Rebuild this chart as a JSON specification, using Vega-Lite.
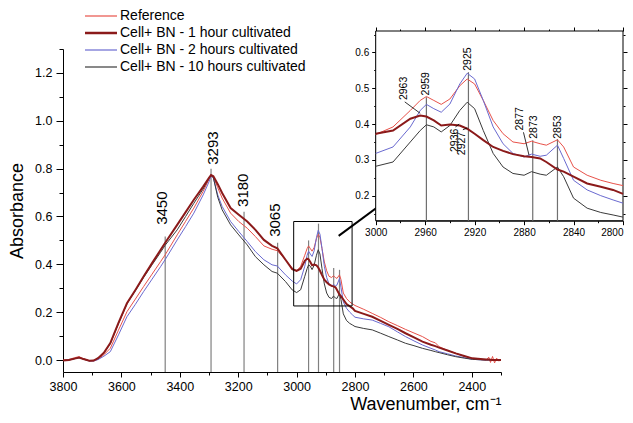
{
  "$schema": "https://vega.github.io/schema/vega-lite/v6.json",
  "width": 438,
  "height": 323,
  "autosize": "none",
  "padding": {"left": 63, "top": 49, "right": 132, "bottom": 51},
  "background": "white",
  "config": {
    "font": "Liberation Sans",
    "view": {"stroke": null},
    "axis": {"grid": false, "domainColor": "#000", "tickColor": "#000", "labelColor": "#000", "titleColor": "#000", "labelFont": "Liberation Sans", "titleFont": "Liberation Sans", "titleFontWeight": "normal"},
    "legend": {"labelFont": "Liberation Sans"}
  },
  "datasets": {
    "spec": [
      {"w": 3800, "ref": 0.0, "h1": -0.002, "h2": -0.002, "h10": -0.002},
      {"w": 3780, "ref": 0.002, "h1": 0.0, "h2": 0.0, "h10": 0.0},
      {"w": 3760, "ref": 0.01, "h1": 0.006, "h2": 0.006, "h10": 0.006},
      {"w": 3745, "ref": 0.014, "h1": 0.01, "h2": 0.01, "h10": 0.01},
      {"w": 3730, "ref": 0.006, "h1": 0.004, "h2": 0.004, "h10": 0.004},
      {"w": 3710, "ref": -0.003, "h1": -0.003, "h2": -0.004, "h10": -0.003},
      {"w": 3695, "ref": -0.004, "h1": -0.002, "h2": -0.004, "h10": -0.002},
      {"w": 3680, "ref": 0.004, "h1": 0.008, "h2": 0.002, "h10": 0.008},
      {"w": 3660, "ref": 0.022, "h1": 0.03, "h2": 0.016, "h10": 0.03},
      {"w": 3638, "ref": 0.049, "h1": 0.071, "h2": 0.035, "h10": 0.068},
      {"w": 3610, "ref": 0.125, "h1": 0.155, "h2": 0.105, "h10": 0.152},
      {"w": 3581, "ref": 0.202, "h1": 0.237, "h2": 0.181, "h10": 0.235},
      {"w": 3552, "ref": 0.255, "h1": 0.293, "h2": 0.233, "h10": 0.29},
      {"w": 3524, "ref": 0.307, "h1": 0.349, "h2": 0.286, "h10": 0.345},
      {"w": 3495, "ref": 0.359, "h1": 0.405, "h2": 0.338, "h10": 0.398},
      {"w": 3466, "ref": 0.411, "h1": 0.46, "h2": 0.39, "h10": 0.45},
      {"w": 3450, "ref": 0.44, "h1": 0.49, "h2": 0.42, "h10": 0.48},
      {"w": 3409, "ref": 0.523, "h1": 0.565, "h2": 0.502, "h10": 0.544},
      {"w": 3380, "ref": 0.58, "h1": 0.618, "h2": 0.558, "h10": 0.6},
      {"w": 3352, "ref": 0.635, "h1": 0.67, "h2": 0.614, "h10": 0.655},
      {"w": 3320, "ref": 0.705, "h1": 0.725, "h2": 0.69, "h10": 0.715},
      {"w": 3300, "ref": 0.755, "h1": 0.762, "h2": 0.745, "h10": 0.76},
      {"w": 3293, "ref": 0.772, "h1": 0.773, "h2": 0.77, "h10": 0.774},
      {"w": 3285, "ref": 0.765, "h1": 0.768, "h2": 0.76, "h10": 0.762},
      {"w": 3270, "ref": 0.72, "h1": 0.735, "h2": 0.69, "h10": 0.68},
      {"w": 3255, "ref": 0.677, "h1": 0.698, "h2": 0.642, "h10": 0.628},
      {"w": 3226, "ref": 0.614, "h1": 0.635, "h2": 0.579, "h10": 0.565},
      {"w": 3198, "ref": 0.579, "h1": 0.607, "h2": 0.537, "h10": 0.523},
      {"w": 3169, "ref": 0.551, "h1": 0.579, "h2": 0.495, "h10": 0.481},
      {"w": 3141, "ref": 0.516, "h1": 0.544, "h2": 0.453, "h10": 0.432},
      {"w": 3112, "ref": 0.477, "h1": 0.502, "h2": 0.419, "h10": 0.398},
      {"w": 3084, "ref": 0.463, "h1": 0.477, "h2": 0.398, "h10": 0.37},
      {"w": 3066, "ref": 0.457, "h1": 0.467, "h2": 0.393, "h10": 0.363},
      {"w": 3038, "ref": 0.419, "h1": 0.419, "h2": 0.356, "h10": 0.328},
      {"w": 3015, "ref": 0.384, "h1": 0.38, "h2": 0.33, "h10": 0.293},
      {"w": 3000, "ref": 0.371, "h1": 0.373, "h2": 0.318, "h10": 0.282},
      {"w": 2986, "ref": 0.392, "h1": 0.382, "h2": 0.336, "h10": 0.294},
      {"w": 2972, "ref": 0.438, "h1": 0.415, "h2": 0.392, "h10": 0.35},
      {"w": 2964, "ref": 0.466, "h1": 0.424, "h2": 0.438, "h10": 0.382},
      {"w": 2959, "ref": 0.477, "h1": 0.421, "h2": 0.455, "h10": 0.398},
      {"w": 2953, "ref": 0.466, "h1": 0.41, "h2": 0.443, "h10": 0.392},
      {"w": 2947, "ref": 0.455, "h1": 0.396, "h2": 0.433, "h10": 0.378},
      {"w": 2940, "ref": 0.47, "h1": 0.399, "h2": 0.456, "h10": 0.396},
      {"w": 2932, "ref": 0.507, "h1": 0.396, "h2": 0.512, "h10": 0.438},
      {"w": 2926, "ref": 0.526, "h1": 0.387, "h2": 0.542, "h10": 0.461},
      {"w": 2920, "ref": 0.512, "h1": 0.373, "h2": 0.526, "h10": 0.443},
      {"w": 2913, "ref": 0.466, "h1": 0.355, "h2": 0.466, "h10": 0.382},
      {"w": 2905, "ref": 0.41, "h1": 0.336, "h2": 0.392, "h10": 0.318},
      {"w": 2897, "ref": 0.373, "h1": 0.325, "h2": 0.345, "h10": 0.28},
      {"w": 2889, "ref": 0.35, "h1": 0.316, "h2": 0.318, "h10": 0.262},
      {"w": 2880, "ref": 0.345, "h1": 0.31, "h2": 0.308, "h10": 0.257},
      {"w": 2874, "ref": 0.352, "h1": 0.308, "h2": 0.316, "h10": 0.267},
      {"w": 2867, "ref": 0.345, "h1": 0.304, "h2": 0.31, "h10": 0.26},
      {"w": 2862, "ref": 0.341, "h1": 0.294, "h2": 0.313, "h10": 0.257},
      {"w": 2853, "ref": 0.356, "h1": 0.273, "h2": 0.341, "h10": 0.28},
      {"w": 2848, "ref": 0.336, "h1": 0.267, "h2": 0.304, "h10": 0.253},
      {"w": 2840, "ref": 0.28, "h1": 0.253, "h2": 0.243, "h10": 0.193},
      {"w": 2829, "ref": 0.257, "h1": 0.234, "h2": 0.216, "h10": 0.165},
      {"w": 2818, "ref": 0.243, "h1": 0.225, "h2": 0.2, "h10": 0.153},
      {"w": 2808, "ref": 0.234, "h1": 0.216, "h2": 0.188, "h10": 0.146},
      {"w": 2800, "ref": 0.228, "h1": 0.205, "h2": 0.179, "h10": 0.14},
      {"w": 2770, "ref": 0.212, "h1": 0.193, "h2": 0.172, "h10": 0.132},
      {"w": 2741, "ref": 0.195, "h1": 0.181, "h2": 0.167, "h10": 0.126},
      {"w": 2712, "ref": 0.178, "h1": 0.164, "h2": 0.153, "h10": 0.112},
      {"w": 2684, "ref": 0.16, "h1": 0.147, "h2": 0.139, "h10": 0.098},
      {"w": 2655, "ref": 0.144, "h1": 0.13, "h2": 0.118, "h10": 0.084},
      {"w": 2627, "ref": 0.128, "h1": 0.112, "h2": 0.098, "h10": 0.07},
      {"w": 2598, "ref": 0.113, "h1": 0.095, "h2": 0.08, "h10": 0.06},
      {"w": 2569, "ref": 0.098, "h1": 0.077, "h2": 0.063, "h10": 0.049},
      {"w": 2540, "ref": 0.078, "h1": 0.064, "h2": 0.049, "h10": 0.04},
      {"w": 2525, "ref": 0.072, "h1": 0.058, "h2": 0.042, "h10": 0.035},
      {"w": 2512, "ref": 0.056, "h1": 0.052, "h2": 0.035, "h10": 0.031},
      {"w": 2483, "ref": 0.04, "h1": 0.04, "h2": 0.026, "h10": 0.022},
      {"w": 2455, "ref": 0.028, "h1": 0.028, "h2": 0.017, "h10": 0.014},
      {"w": 2426, "ref": 0.016, "h1": 0.017, "h2": 0.01, "h10": 0.008},
      {"w": 2398, "ref": 0.007, "h1": 0.007, "h2": 0.003, "h10": 0.003},
      {"w": 2370, "ref": 0.002, "h1": 0.004, "h2": 0.001, "h10": 0.001},
      {"w": 2350, "ref": 0.0, "h1": 0.002, "h2": 0.0, "h10": 0.0},
      {"w": 2342, "ref": 0.012, "h1": 0.002, "h2": 0.0, "h10": 0.0},
      {"w": 2336, "ref": -0.01, "h1": 0.001, "h2": 0.0, "h10": 0.0},
      {"w": 2329, "ref": 0.015, "h1": 0.0, "h2": 0.0, "h10": 0.0},
      {"w": 2322, "ref": -0.012, "h1": 0.0, "h2": 0.0, "h10": 0.0},
      {"w": 2315, "ref": 0.008, "h1": 0.0, "h2": -0.001, "h10": 0.0},
      {"w": 2308, "ref": -0.004, "h1": 0.0, "h2": -0.001, "h10": 0.0},
      {"w": 2300, "ref": 0.0, "h1": 0.0, "h2": -0.001, "h10": 0.0}
    ],
    "vl": [
      {"w": 3450, "lo": -0.05, "hi": 0.516},
      {"w": 3293, "lo": -0.05, "hi": 0.8},
      {"w": 3180, "lo": -0.05, "hi": 0.62},
      {"w": 3065, "lo": -0.05, "hi": 0.49},
      {"w": 2959, "lo": -0.05, "hi": 0.5},
      {"w": 2925, "lo": -0.05, "hi": 0.57},
      {"w": 2873, "lo": -0.05, "hi": 0.385},
      {"w": 2853, "lo": -0.05, "hi": 0.377}
    ],
    "lab": [
      {"w": 3461, "y": 0.565, "t": "3450"},
      {"w": 3287, "y": 0.816, "t": "3293"},
      {"w": 3185, "y": 0.64, "t": "3180"},
      {"w": 3075, "y": 0.515, "t": "3065"}
    ],
    "box": [{"x1": 3010, "x2": 2810, "y1": 0.226, "y2": 0.579}],
    "arrow": [{"x1": 2856, "y1": 0.519, "x2": 2604, "y2": 0.746}],
    "iframe": [{"x1": 3000, "x2": 2800, "y1": 0.13, "y2": 0.66}],
    "ivl": [
      {"w": 2959, "lo": 0.13, "hi": 0.475},
      {"w": 2925, "lo": 0.13, "hi": 0.545},
      {"w": 2873, "lo": 0.13, "hi": 0.355},
      {"w": 2853, "lo": 0.13, "hi": 0.358}
    ],
    "ilab": [
      {"w": 2977.5, "y": 0.467, "t": "2963"},
      {"w": 2959, "y": 0.48, "t": "2959"},
      {"w": 2925.5, "y": 0.549, "t": "2925"},
      {"w": 2936, "y": 0.322, "t": "2936"},
      {"w": 2930.5, "y": 0.313, "t": "2927"},
      {"w": 2883.7, "y": 0.382, "t": "2877"},
      {"w": 2872.3, "y": 0.359, "t": "2873"},
      {"w": 2852.6, "y": 0.359, "t": "2853"}
    ],
    "lead": [
      {"x1": 2976.5, "y1": 0.462, "x2": 2964, "y2": 0.43},
      {"x1": 2880.5, "y1": 0.377, "x2": 2876, "y2": 0.313},
      {"x1": 2935.5, "y1": 0.392, "x2": 2932.5, "y2": 0.4},
      {"x1": 2929.5, "y1": 0.384, "x2": 2926, "y2": 0.389}
    ]
  },
  "layer": [
    {
      "layer": [
        {
          "data": {"name": "vl"},
          "mark": {"type": "rule", "color": "#808080", "strokeWidth": 1.2},
          "encoding": {
            "x": {"field": "w", "type": "quantitative", "scale": {"domain": [2300, 3800], "reverse": true, "nice": false, "zero": false},
              "axis": {"values": [3800, 3700, 3600, 3500, 3400, 3300, 3200, 3100, 3000, 2900, 2800, 2700, 2600, 2500, 2400, 2300], "format": "d",
                "labelExpr": "datum.value % 200 === 0 ? datum.label : ''",
                "tickSize": {"condition": {"test": "datum.value % 200 === 0", "value": 5}, "value": 3},
                "labelFontSize": 12.5, "labelPadding": 3, "labelFlush": false, "labelOverlap": false,
                "title": "Wavenumber, cm⁻¹", "titleAnchor": "start", "titleAlign": "right", "titleFontSize": 18, "titlePadding": 3}},
            "y": {"field": "lo", "type": "quantitative", "scale": {"domain": [-0.05, 1.3], "nice": false, "zero": false},
              "axis": {"values": [0, 0.1, 0.2, 0.3, 0.4, 0.5, 0.6, 0.7, 0.8, 0.9, 1.0, 1.1, 1.2, 1.3], "format": ".1f",
                "labelExpr": "round(datum.value * 10) % 2 === 0 ? datum.label : ''",
                "tickSize": {"condition": {"test": "round(datum.value * 10) % 2 === 0", "value": 7}, "value": 4},
                "labelFontSize": 12.5, "labelPadding": 4, "labelFlush": false, "labelOverlap": false,
                "title": "Absorbance", "titleFontSize": 18, "titlePadding": 8}},
            "y2": {"field": "hi"}
          }
        },
        {
          "data": {"name": "spec"},
          "transform": [{"fold": ["ref", "h2", "h10", "h1"], "as": ["s", "a"]}],
          "mark": {"type": "line"},
          "encoding": {
            "x": {"field": "w", "type": "quantitative", "scale": {"domain": [2300, 3800], "reverse": true, "nice": false, "zero": false},
              "axis": {"values": [3800, 3700, 3600, 3500, 3400, 3300, 3200, 3100, 3000, 2900, 2800, 2700, 2600, 2500, 2400, 2300], "format": "d",
                "labelExpr": "datum.value % 200 === 0 ? datum.label : ''",
                "tickSize": {"condition": {"test": "datum.value % 200 === 0", "value": 5}, "value": 3},
                "labelFontSize": 12.5, "labelPadding": 3, "labelFlush": false, "labelOverlap": false,
                "title": "Wavenumber, cm⁻¹", "titleAnchor": "start", "titleAlign": "right", "titleFontSize": 18, "titlePadding": 3}},
            "y": {"field": "a", "type": "quantitative", "scale": {"domain": [-0.05, 1.3], "nice": false, "zero": false},
              "axis": {"values": [0, 0.1, 0.2, 0.3, 0.4, 0.5, 0.6, 0.7, 0.8, 0.9, 1.0, 1.1, 1.2, 1.3], "format": ".1f",
                "labelExpr": "round(datum.value * 10) % 2 === 0 ? datum.label : ''",
                "tickSize": {"condition": {"test": "round(datum.value * 10) % 2 === 0", "value": 7}, "value": 4},
                "labelFontSize": 12.5, "labelPadding": 4, "labelFlush": false, "labelOverlap": false,
                "title": "Absorbance", "titleFontSize": 18, "titlePadding": 8}},
            "color": {"field": "s", "type": "nominal",
              "scale": {"domain": ["ref", "h1", "h2", "h10"], "range": ["#e8524a", "#8b1a1a", "#6a6ad0", "#3a3a3a"]},
              "legend": {"title": null, "orient": "none", "legendX": 31, "legendY": -40, "labelFontSize": 14, "labelColor": "#000", "labelLimit": 400,
                "labelExpr": "{'ref': 'Reference', 'h1': 'Cell+ BN - 1 hour cultivated', 'h2': 'Cell+ BN - 2 hours cultivated', 'h10': 'Cell+ BN - 10 hours cultivated'}[datum.label]",
                "symbolType": "stroke", "symbolSize": 1024, "symbolStrokeWidth": 1.2, "labelOffset": 12, "rowPadding": 3,
                "encode": {"symbols": {"update": {"strokeWidth": {"signal": "datum.value === 'h1' ? 2.5 : 1.2"}}}}}},
            "strokeWidth": {"condition": {"test": "datum.s === 'h1'", "value": 2}, "value": 1}
          }
        },
        {
          "data": {"name": "lab"},
          "mark": {"type": "text", "angle": 270, "align": "left", "baseline": "middle", "fontSize": 15, "color": "#000"},
          "encoding": {
            "x": {"field": "w", "type": "quantitative", "scale": {"domain": [2300, 3800], "reverse": true, "nice": false, "zero": false},
              "axis": {"values": [3800, 3700, 3600, 3500, 3400, 3300, 3200, 3100, 3000, 2900, 2800, 2700, 2600, 2500, 2400, 2300], "format": "d",
                "labelExpr": "datum.value % 200 === 0 ? datum.label : ''",
                "tickSize": {"condition": {"test": "datum.value % 200 === 0", "value": 5}, "value": 3},
                "labelFontSize": 12.5, "labelPadding": 3, "labelFlush": false, "labelOverlap": false,
                "title": "Wavenumber, cm⁻¹", "titleAnchor": "start", "titleAlign": "right", "titleFontSize": 18, "titlePadding": 3}},
            "y": {"field": "y", "type": "quantitative", "scale": {"domain": [-0.05, 1.3], "nice": false, "zero": false},
              "axis": {"values": [0, 0.1, 0.2, 0.3, 0.4, 0.5, 0.6, 0.7, 0.8, 0.9, 1.0, 1.1, 1.2, 1.3], "format": ".1f",
                "labelExpr": "round(datum.value * 10) % 2 === 0 ? datum.label : ''",
                "tickSize": {"condition": {"test": "round(datum.value * 10) % 2 === 0", "value": 7}, "value": 4},
                "labelFontSize": 12.5, "labelPadding": 4, "labelFlush": false, "labelOverlap": false,
                "title": "Absorbance", "titleFontSize": 18, "titlePadding": 8}},
            "text": {"field": "t"}
          }
        },
        {
          "data": {"name": "box"},
          "mark": {"type": "rect", "fill": "transparent", "stroke": "#000", "strokeWidth": 1},
          "encoding": {
            "x": {"field": "x1", "type": "quantitative", "scale": {"domain": [2300, 3800], "reverse": true, "nice": false, "zero": false},
              "axis": {"values": [3800, 3700, 3600, 3500, 3400, 3300, 3200, 3100, 3000, 2900, 2800, 2700, 2600, 2500, 2400, 2300], "format": "d",
                "labelExpr": "datum.value % 200 === 0 ? datum.label : ''",
                "tickSize": {"condition": {"test": "datum.value % 200 === 0", "value": 5}, "value": 3},
                "labelFontSize": 12.5, "labelPadding": 3, "labelFlush": false, "labelOverlap": false,
                "title": "Wavenumber, cm⁻¹", "titleAnchor": "start", "titleAlign": "right", "titleFontSize": 18, "titlePadding": 3}},
            "x2": {"field": "x2"},
            "y": {"field": "y1", "type": "quantitative", "scale": {"domain": [-0.05, 1.3], "nice": false, "zero": false},
              "axis": {"values": [0, 0.1, 0.2, 0.3, 0.4, 0.5, 0.6, 0.7, 0.8, 0.9, 1.0, 1.1, 1.2, 1.3], "format": ".1f",
                "labelExpr": "round(datum.value * 10) % 2 === 0 ? datum.label : ''",
                "tickSize": {"condition": {"test": "round(datum.value * 10) % 2 === 0", "value": 7}, "value": 4},
                "labelFontSize": 12.5, "labelPadding": 4, "labelFlush": false, "labelOverlap": false,
                "title": "Absorbance", "titleFontSize": 18, "titlePadding": 8}},
            "y2": {"field": "y2"}
          }
        },
        {
          "data": {"name": "arrow"},
          "mark": {"type": "rule", "color": "#000", "strokeWidth": 2},
          "encoding": {
            "x": {"field": "x1", "type": "quantitative", "scale": {"domain": [2300, 3800], "reverse": true, "nice": false, "zero": false},
              "axis": {"values": [3800, 3700, 3600, 3500, 3400, 3300, 3200, 3100, 3000, 2900, 2800, 2700, 2600, 2500, 2400, 2300], "format": "d",
                "labelExpr": "datum.value % 200 === 0 ? datum.label : ''",
                "tickSize": {"condition": {"test": "datum.value % 200 === 0", "value": 5}, "value": 3},
                "labelFontSize": 12.5, "labelPadding": 3, "labelFlush": false, "labelOverlap": false,
                "title": "Wavenumber, cm⁻¹", "titleAnchor": "start", "titleAlign": "right", "titleFontSize": 18, "titlePadding": 3}},
            "x2": {"field": "x2"},
            "y": {"field": "y1", "type": "quantitative", "scale": {"domain": [-0.05, 1.3], "nice": false, "zero": false},
              "axis": {"values": [0, 0.1, 0.2, 0.3, 0.4, 0.5, 0.6, 0.7, 0.8, 0.9, 1.0, 1.1, 1.2, 1.3], "format": ".1f",
                "labelExpr": "round(datum.value * 10) % 2 === 0 ? datum.label : ''",
                "tickSize": {"condition": {"test": "round(datum.value * 10) % 2 === 0", "value": 7}, "value": 4},
                "labelFontSize": 12.5, "labelPadding": 4, "labelFlush": false, "labelOverlap": false,
                "title": "Absorbance", "titleFontSize": 18, "titlePadding": 8}},
            "y2": {"field": "y2"}
          }
        },
        {
          "data": {"name": "arrow"},
          "mark": {"type": "point", "shape": "triangle-right", "angle": -36.4, "size": 70, "filled": true, "color": "#000", "opacity": 1},
          "encoding": {
            "x": {"field": "x2", "type": "quantitative", "scale": {"domain": [2300, 3800], "reverse": true, "nice": false, "zero": false},
              "axis": {"values": [3800, 3700, 3600, 3500, 3400, 3300, 3200, 3100, 3000, 2900, 2800, 2700, 2600, 2500, 2400, 2300], "format": "d",
                "labelExpr": "datum.value % 200 === 0 ? datum.label : ''",
                "tickSize": {"condition": {"test": "datum.value % 200 === 0", "value": 5}, "value": 3},
                "labelFontSize": 12.5, "labelPadding": 3, "labelFlush": false, "labelOverlap": false,
                "title": "Wavenumber, cm⁻¹", "titleAnchor": "start", "titleAlign": "right", "titleFontSize": 18, "titlePadding": 3}},
            "y": {"field": "y2", "type": "quantitative", "scale": {"domain": [-0.05, 1.3], "nice": false, "zero": false},
              "axis": {"values": [0, 0.1, 0.2, 0.3, 0.4, 0.5, 0.6, 0.7, 0.8, 0.9, 1.0, 1.1, 1.2, 1.3], "format": ".1f",
                "labelExpr": "round(datum.value * 10) % 2 === 0 ? datum.label : ''",
                "tickSize": {"condition": {"test": "round(datum.value * 10) % 2 === 0", "value": 7}, "value": 4},
                "labelFontSize": 12.5, "labelPadding": 4, "labelFlush": false, "labelOverlap": false,
                "title": "Absorbance", "titleFontSize": 18, "titlePadding": 8}}
          }
        }
      ]
    },
    {
      "layer": [
        {
          "layer": [
            {
              "data": {"name": "iframe"},
              "mark": {"type": "rect", "fill": "white", "stroke": "#000", "strokeWidth": 1},
              "encoding": {
                "x": {"field": "x1", "type": "quantitative", "scale": {"domain": [2800, 3000], "range": [560, 312.7], "nice": false, "zero": false},
                  "axis": {"orient": "bottom", "offset": -151.3, "values": [3000, 2980, 2960, 2940, 2920, 2900, 2880, 2860, 2840, 2820, 2800], "format": "d",
                    "labelExpr": "datum.value % 40 === 0 ? datum.label : ''",
                    "labelAlign": {"condition": {"test": "datum.value === 2800", "value": "right"}, "value": "center"},
                    "tickSize": {"condition": {"test": "datum.value % 40 === 0", "value": 4}, "value": 2},
                    "labelFontSize": 10, "labelPadding": 3, "labelFlush": false, "labelOverlap": false, "title": null}},
                "x2": {"field": "x2"},
                "y": {"field": "y1", "type": "quantitative", "scale": {"domain": [0.13, 0.66], "range": [171.7, -18], "nice": false, "zero": false},
                  "axis": {"orient": "left", "offset": -312.7, "values": [0.15, 0.2, 0.25, 0.3, 0.35, 0.4, 0.45, 0.5, 0.55, 0.6, 0.65], "format": ".1f",
                    "labelExpr": "round(datum.value * 100) % 10 === 0 ? datum.label : ''",
                    "tickSize": {"condition": {"test": "round(datum.value * 100) % 10 === 0", "value": 4}, "value": 2},
                    "labelFontSize": 10, "labelPadding": 3, "labelFlush": false, "labelOverlap": false, "title": null}},
                "y2": {"field": "y2"}
              }
            },
            {
              "data": {"name": "ivl"},
              "mark": {"type": "rule", "color": "#707070", "strokeWidth": 1.2},
              "encoding": {
                "x": {"field": "w", "type": "quantitative", "scale": {"domain": [2800, 3000], "range": [560, 312.7], "nice": false, "zero": false},
                  "axis": {"orient": "bottom", "offset": -151.3, "values": [3000, 2980, 2960, 2940, 2920, 2900, 2880, 2860, 2840, 2820, 2800], "format": "d",
                    "labelExpr": "datum.value % 40 === 0 ? datum.label : ''",
                    "labelAlign": {"condition": {"test": "datum.value === 2800", "value": "right"}, "value": "center"},
                    "tickSize": {"condition": {"test": "datum.value % 40 === 0", "value": 4}, "value": 2},
                    "labelFontSize": 10, "labelPadding": 3, "labelFlush": false, "labelOverlap": false, "title": null}},
                "y": {"field": "lo", "type": "quantitative", "scale": {"domain": [0.13, 0.66], "range": [171.7, -18], "nice": false, "zero": false},
                  "axis": {"orient": "left", "offset": -312.7, "values": [0.15, 0.2, 0.25, 0.3, 0.35, 0.4, 0.45, 0.5, 0.55, 0.6, 0.65], "format": ".1f",
                    "labelExpr": "round(datum.value * 100) % 10 === 0 ? datum.label : ''",
                    "tickSize": {"condition": {"test": "round(datum.value * 100) % 10 === 0", "value": 4}, "value": 2},
                    "labelFontSize": 10, "labelPadding": 3, "labelFlush": false, "labelOverlap": false, "title": null}},
                "y2": {"field": "hi"}
              }
            },
            {
              "data": {"name": "spec"},
              "transform": [{"fold": ["ref", "h2", "h10", "h1"], "as": ["s", "a"]}, {"filter": {"field": "w", "range": [2800, 3000]}}],
              "mark": {"type": "line"},
              "encoding": {
                "x": {"field": "w", "type": "quantitative", "scale": {"domain": [2800, 3000], "range": [560, 312.7], "nice": false, "zero": false},
                  "axis": {"orient": "bottom", "offset": -151.3, "values": [3000, 2980, 2960, 2940, 2920, 2900, 2880, 2860, 2840, 2820, 2800], "format": "d",
                    "labelExpr": "datum.value % 40 === 0 ? datum.label : ''",
                    "labelAlign": {"condition": {"test": "datum.value === 2800", "value": "right"}, "value": "center"},
                    "tickSize": {"condition": {"test": "datum.value % 40 === 0", "value": 4}, "value": 2},
                    "labelFontSize": 10, "labelPadding": 3, "labelFlush": false, "labelOverlap": false, "title": null}},
                "y": {"field": "a", "type": "quantitative", "scale": {"domain": [0.13, 0.66], "range": [171.7, -18], "nice": false, "zero": false},
                  "axis": {"orient": "left", "offset": -312.7, "values": [0.15, 0.2, 0.25, 0.3, 0.35, 0.4, 0.45, 0.5, 0.55, 0.6, 0.65], "format": ".1f",
                    "labelExpr": "round(datum.value * 100) % 10 === 0 ? datum.label : ''",
                    "tickSize": {"condition": {"test": "round(datum.value * 100) % 10 === 0", "value": 4}, "value": 2},
                    "labelFontSize": 10, "labelPadding": 3, "labelFlush": false, "labelOverlap": false, "title": null}},
                "color": {"field": "s", "type": "nominal"},
                "strokeWidth": {"condition": {"test": "datum.s === 'h1'", "value": 2}, "value": 1}
              }
            },
            {
              "data": {"name": "ilab"},
              "mark": {"type": "text", "angle": 270, "align": "left", "baseline": "middle", "fontSize": 10.5, "color": "#000"},
              "encoding": {
                "x": {"field": "w", "type": "quantitative", "scale": {"domain": [2800, 3000], "range": [560, 312.7], "nice": false, "zero": false},
                  "axis": {"orient": "bottom", "offset": -151.3, "values": [3000, 2980, 2960, 2940, 2920, 2900, 2880, 2860, 2840, 2820, 2800], "format": "d",
                    "labelExpr": "datum.value % 40 === 0 ? datum.label : ''",
                    "labelAlign": {"condition": {"test": "datum.value === 2800", "value": "right"}, "value": "center"},
                    "tickSize": {"condition": {"test": "datum.value % 40 === 0", "value": 4}, "value": 2},
                    "labelFontSize": 10, "labelPadding": 3, "labelFlush": false, "labelOverlap": false, "title": null}},
                "y": {"field": "y", "type": "quantitative", "scale": {"domain": [0.13, 0.66], "range": [171.7, -18], "nice": false, "zero": false},
                  "axis": {"orient": "left", "offset": -312.7, "values": [0.15, 0.2, 0.25, 0.3, 0.35, 0.4, 0.45, 0.5, 0.55, 0.6, 0.65], "format": ".1f",
                    "labelExpr": "round(datum.value * 100) % 10 === 0 ? datum.label : ''",
                    "tickSize": {"condition": {"test": "round(datum.value * 100) % 10 === 0", "value": 4}, "value": 2},
                    "labelFontSize": 10, "labelPadding": 3, "labelFlush": false, "labelOverlap": false, "title": null}},
                "text": {"field": "t"}
              }
            },
            {
              "data": {"name": "lead"},
              "mark": {"type": "rule", "color": "#000", "strokeWidth": 0.8},
              "encoding": {
                "x": {"field": "x1", "type": "quantitative", "scale": {"domain": [2800, 3000], "range": [560, 312.7], "nice": false, "zero": false},
                  "axis": {"orient": "bottom", "offset": -151.3, "values": [3000, 2980, 2960, 2940, 2920, 2900, 2880, 2860, 2840, 2820, 2800], "format": "d",
                    "labelExpr": "datum.value % 40 === 0 ? datum.label : ''",
                    "labelAlign": {"condition": {"test": "datum.value === 2800", "value": "right"}, "value": "center"},
                    "tickSize": {"condition": {"test": "datum.value % 40 === 0", "value": 4}, "value": 2},
                    "labelFontSize": 10, "labelPadding": 3, "labelFlush": false, "labelOverlap": false, "title": null}},
                "x2": {"field": "x2"},
                "y": {"field": "y1", "type": "quantitative", "scale": {"domain": [0.13, 0.66], "range": [171.7, -18], "nice": false, "zero": false},
                  "axis": {"orient": "left", "offset": -312.7, "values": [0.15, 0.2, 0.25, 0.3, 0.35, 0.4, 0.45, 0.5, 0.55, 0.6, 0.65], "format": ".1f",
                    "labelExpr": "round(datum.value * 100) % 10 === 0 ? datum.label : ''",
                    "tickSize": {"condition": {"test": "round(datum.value * 100) % 10 === 0", "value": 4}, "value": 2},
                    "labelFontSize": 10, "labelPadding": 3, "labelFlush": false, "labelOverlap": false, "title": null}},
                "y2": {"field": "y2"}
              }
            }
          ]
        },
        {
          "data": {"name": "iframe"},
          "mark": {"type": "rect", "opacity": 0},
          "encoding": {
            "x": {"field": "x1", "type": "quantitative", "scale": {"domain": [2800, 3000], "range": [560, 312.7], "nice": false, "zero": false},
              "axis": {"orient": "top", "offset": 18, "values": [3000, 2980, 2960, 2940, 2920, 2900, 2880, 2860, 2840, 2820, 2800],
                "labels": false, "domain": false, "title": null,
                "tickSize": {"condition": {"test": "datum.value % 40 === 0", "value": 4}, "value": 2}}},
            "x2": {"field": "x2"},
            "y": {"field": "y1", "type": "quantitative", "scale": {"domain": [0.13, 0.66], "range": [171.7, -18], "nice": false, "zero": false},
              "axis": {"orient": "right", "offset": 122, "values": [0.15, 0.2, 0.25, 0.3, 0.35, 0.4, 0.45, 0.5, 0.55, 0.6, 0.65],
                "labels": false, "domain": false, "title": null,
                "tickSize": {"condition": {"test": "round(datum.value * 100) % 10 === 0", "value": 4}, "value": 2}}},
            "y2": {"field": "y2"}
          }
        }
      ],
      "resolve": {"axis": {"x": "independent", "y": "independent"}}
    }
  ],
  "resolve": {"scale": {"x": "independent", "y": "independent"}}
}
